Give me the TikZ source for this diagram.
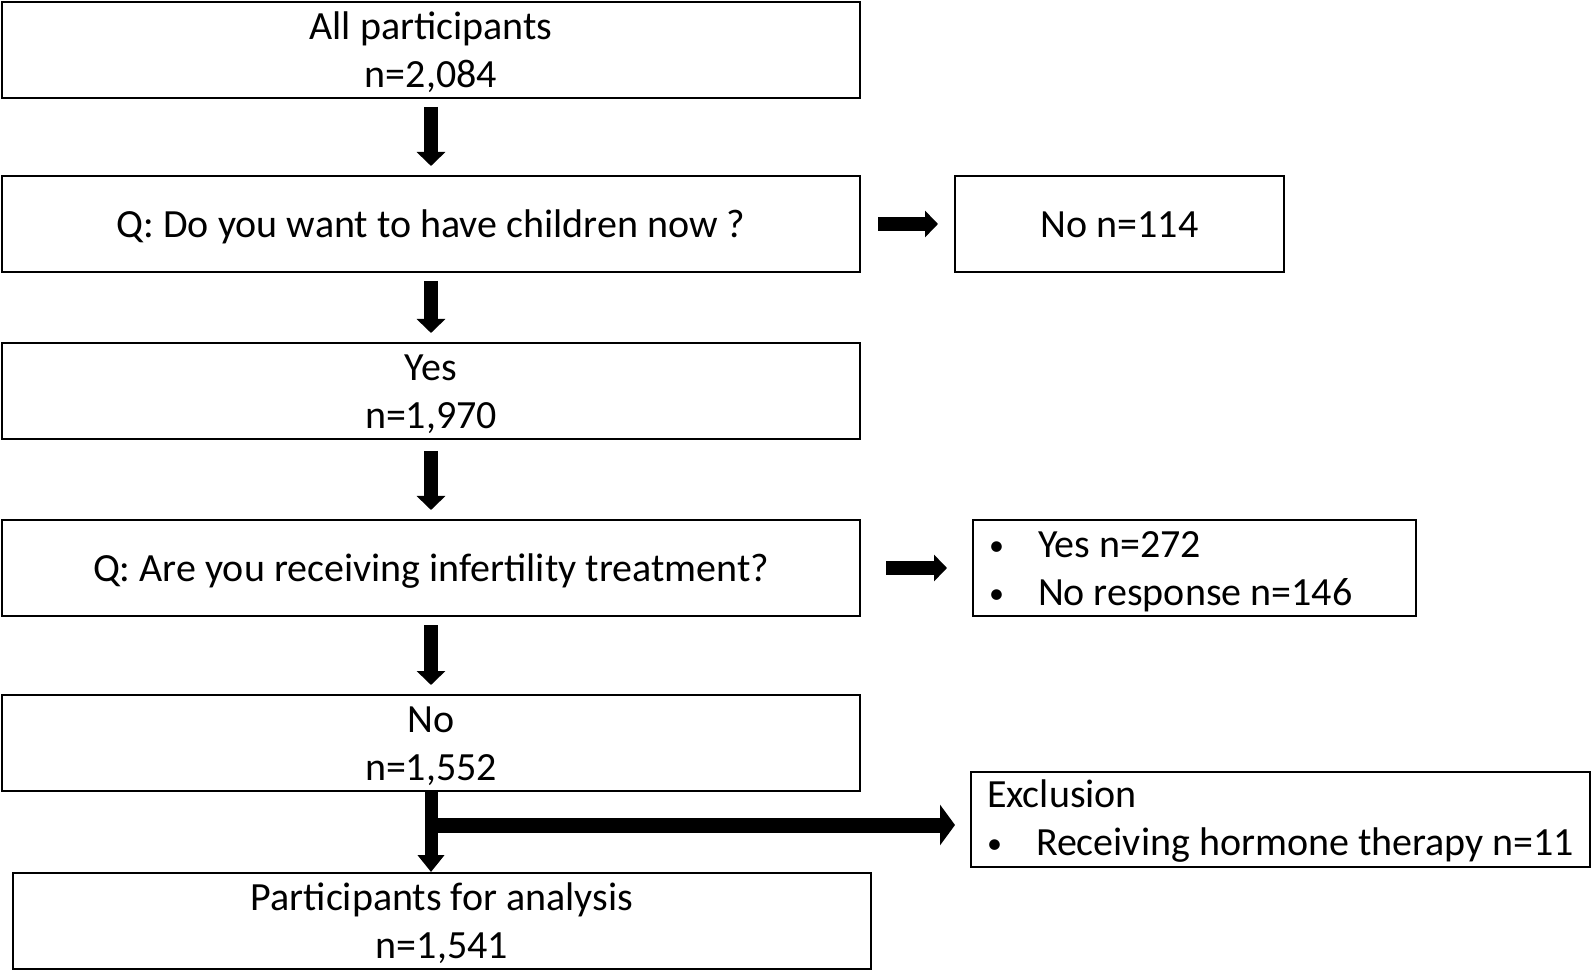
\documentclass[tikz,border=0pt]{standalone}
\usepackage{fontspec}
\setmainfont{Carlito}
\usetikzlibrary{positioning,arrows.meta}
\newcommand{\bul}{\makebox[24.5pt][l]{\hspace{0pt}\raisebox{1pt}{\scalebox{0.75}{\textbullet}}}}
\newcommand{\tstrut}{\rule{0pt}{17pt}}
\newcommand{\bstrut}{\rule[-3.5pt]{0pt}{0pt}}

\begin{document}
\begin{tikzpicture}[
    box/.style={shape=rectangle, draw, color=black, line width=1pt, minimum height=48pt, minimum width=429pt, inner ysep=0pt, align=center, font=\fontsize{20}{24}\selectfont},
    listbox/.style={shape=rectangle, draw, color=black, line width=1pt, minimum height=47.5pt, inner xsep=8pt, inner ysep=0pt, align=flush left, font=\fontsize{20}{24}\selectfont},
    downarrow/.style={line width=7pt, -{Triangle[width=14pt, length=7pt]}, shorten <=4pt, shorten >=4.5pt},
    sidearrow/.style={line width=7pt, -{Triangle[width=13pt, length=6.5pt]}}
]
    \useasboundingbox (0,0) rectangle (797pt,-486pt);
    \node[box] (all) at (215.5pt,-25pt) {\tstrut All participants\\n=2,084\bstrut};
    \node[box, below=38pt of all] (want) {\tstrut Q: Do you want to have children now ?\bstrut};
    \node[box, minimum width=164.5pt, right=46.5pt of want] (wantno) {\tstrut No n=114\bstrut};
    \node[box, below=34.5pt of want] (wantyes) {\tstrut Yes\\n=1,970\bstrut};
    \node[box, below=39.5pt of wantyes] (treat) {\tstrut Q: Are you receiving infertility treatment?\bstrut};
    \node[listbox, minimum height=48pt, text width=205.5pt, right=55.5pt of treat] (treatyes) {\tstrut\bul Yes n=272\\\bul No response n=146\bstrut};
    \node[box, below=38.5pt of treat] (treatno) {\tstrut No\\n=1,552\bstrut};
    \node[listbox, text width=293.5pt, right=54.5pt of treatno, yshift=-38.25pt] (exclusion) {\rule{0pt}{15.5pt}Exclusion\\\mbox{\bul Receiving hormone therapy n=11}\bstrut};
    \node[box, below=40pt of treatno, xshift=5.5pt] (analysis) {\tstrut Participants for analysis\\n=1,541\bstrut};
    \coordinate (split) at ([yshift=-16.5pt]treatno.south);

    \draw[downarrow] (all) -- (want);
    \draw[downarrow] (want) -- (wantyes);
    \draw[downarrow, shorten <=5.5pt] (wantyes) -- (treat);
    \draw[downarrow] (treat) -- (treatno);
    \draw[sidearrow, shorten <=8.5pt, shorten >=8pt] (want) -- (wantno);
    \draw[sidearrow, shorten <=12.5pt, shorten >=12.5pt] (treat) -- (treatyes);
    \draw[line width=6.5pt, -{Triangle[width=13pt, length=8.5pt]}, shorten >=0pt] (treatno.south) -- (treatno.south |- analysis.north);
    \draw[line width=7.5pt, -{Triangle[width=20pt, length=7.5pt]}, shorten >=7.5pt] ([xshift=-3pt]split) -- (split -| exclusion.west);
\end{tikzpicture}
\end{document}
